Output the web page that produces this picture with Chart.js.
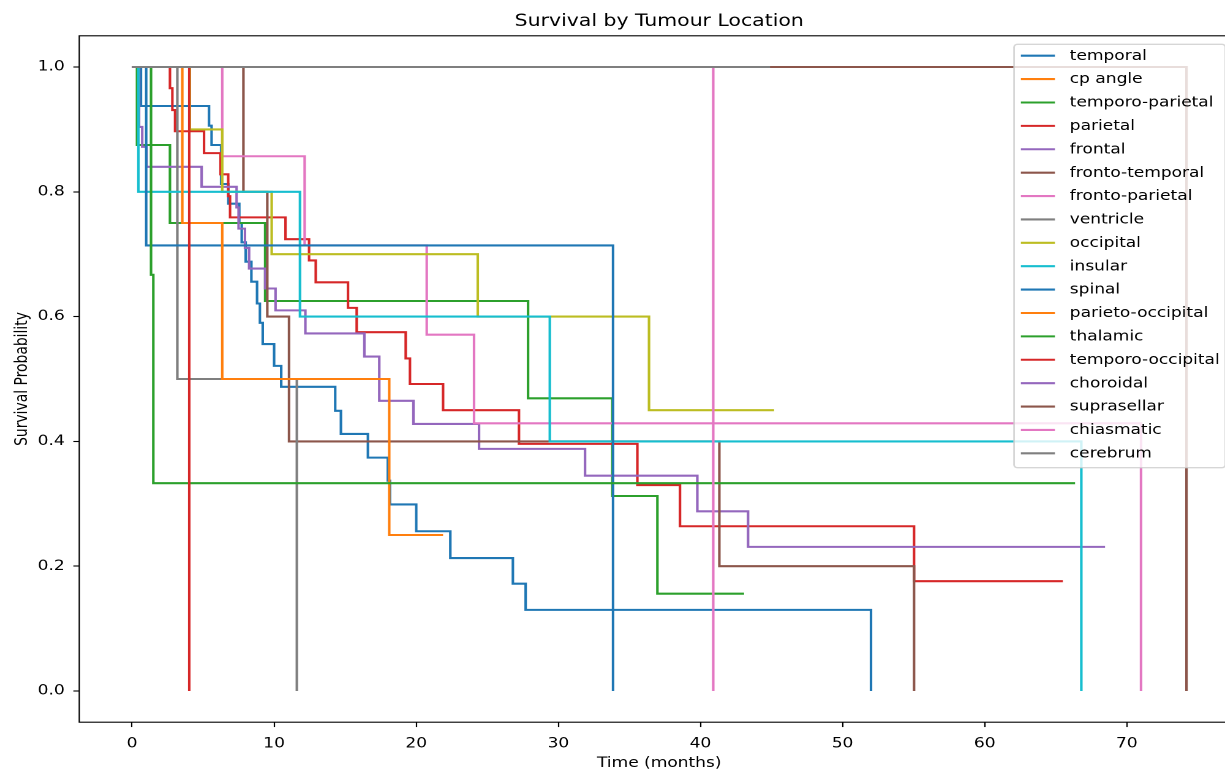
<!DOCTYPE html>
<html><head><meta charset="utf-8">
<script src="https://cdn.jsdelivr.net/npm/chart.js@4.4.1/dist/chart.umd.min.js"></script>
<style>
html,body{margin:0;padding:0;overflow:hidden;background:#fff;width:1225px;height:773px;}
#wrap{position:absolute;left:0;top:0;width:1020px;height:773px;transform:scaleX(1.225);transform-origin:0 0;}
canvas{display:block;}
</style></head><body>
<div id="wrap"><canvas id="c" width="1020" height="773"></canvas></div>
<script>
// ---------- data ----------
const chartTitle = 'Survival by Tumour Location';
const xTitle = 'Time (months)';
const yTitle = 'Survival Probability';
const xTicks = [0, 10, 20, 30, 40, 50, 60, 70];
const yTicks = [0, 0.2, 0.4, 0.6, 0.8, 1.0];
const locations = ['temporal', 'cp angle', 'temporo-parietal', 'parietal', 'frontal', 'fronto-temporal',
  'fronto-parietal', 'ventricle', 'occipital', 'insular', 'spinal', 'parieto-occipital', 'thalamic',
  'temporo-occipital', 'choroidal', 'suprasellar', 'chiasmatic', 'cerebrum'];

const temporalTime = [0, 0.63, 5.42, 5.6, 6.27, 6.78, 7.55, 7.72, 8.0, 8.4, 8.8, 9.0, 9.2, 10.0, 10.5, 14.3, 14.7, 16.6, 18.0, 18.15, 20.0, 22.4, 26.8, 27.7, 52.0];
const temporalSurv = [1, 0.9375, 0.906, 0.875, 0.8125, 0.781, 0.75, 0.719, 0.688, 0.656, 0.621, 0.59, 0.556, 0.521, 0.4875, 0.449, 0.412, 0.374, 0.337, 0.299, 0.256, 0.213, 0.172, 0.13, 0];
const cpAngleTime = [0, 8.0];
const cpAngleSurv = [1, 1];
const temporoParietalTime = [0, 0.35, 2.67, 9.37, 27.87, 33.8, 36.97, 43.07];
const temporoParietalSurv = [1, 0.875, 0.75, 0.625, 0.469, 0.3125, 0.156, 0.156];
const parietalTime = [0, 2.67, 2.84, 3.03, 5.07, 6.23, 6.77, 6.9, 10.8, 12.46, 12.93, 15.2, 15.81, 19.26, 19.56, 21.89, 27.23, 35.56, 38.56, 55.03, 65.5];
const parietalSurv = [1, 0.966, 0.931, 0.897, 0.862, 0.828, 0.793, 0.759, 0.724, 0.69, 0.655, 0.614, 0.575, 0.533, 0.492, 0.45, 0.396, 0.33, 0.264, 0.176, 0.176];
const frontalTime = [0, 0.5, 0.72, 1.03, 4.9, 7.36, 7.5, 7.95, 8.24, 9.37, 10.1, 12.2, 16.35, 17.4, 19.8, 24.42, 31.88, 39.78, 43.35, 68.47];
const frontalSurv = [1, 0.904, 0.872, 0.84, 0.808, 0.775, 0.741, 0.71, 0.677, 0.645, 0.61, 0.573, 0.536, 0.465, 0.428, 0.388, 0.345, 0.288, 0.231, 0.231];
const frontoTemporalTime = [0, 7.84, 9.52, 11.05, 41.33, 55.03];
const frontoTemporalSurv = [1, 0.8, 0.6, 0.4, 0.2, 0];
const frontoParietalTime = [0, 6.35, 12.15, 20.74, 24.07, 71.0];
const frontoParietalSurv = [1, 0.857, 0.714, 0.571, 0.429, 0];
const ventricleTime = [0, 3.19, 11.6];
const ventricleSurv = [1, 0.5, 0];
const occipitalTime = [0, 4.07, 6.35, 9.83, 24.33, 36.38, 45.18];
const occipitalSurv = [1, 0.9, 0.8, 0.7, 0.6, 0.45, 0.45];
const insularTime = [0, 0.45, 11.82, 29.4, 66.8];
const insularSurv = [1, 0.8, 0.6, 0.4, 0];
const spinalTime = [0, 1.0, 33.85];
const spinalSurv = [1, 0.714, 0];
const parietoOccipitalTime = [0, 3.54, 6.35, 18.1, 21.89];
const parietoOccipitalSurv = [1, 0.75, 0.5, 0.25, 0.25];
const thalamicTime = [0, 1.34, 1.5, 66.36];
const thalamicSurv = [1, 0.667, 0.333, 0.333];
const temporoOccipitalTime = [0, 4.03];
const temporoOccipitalSurv = [1, 0];
const choroidalTime = [0, 6.0];
const choroidalSurv = [1, 1];
const suprasellarTime = [0, 74.2];
const suprasellarSurv = [1, 0];
const chiasmaticTime = [0, 40.9];
const chiasmaticSurv = [1, 0];
const cerebrumTime = [0, 44.9];
const cerebrumSurv = [1, 1];

const seriesTimes = [temporalTime, cpAngleTime, temporoParietalTime, parietalTime, frontalTime, frontoTemporalTime,
  frontoParietalTime, ventricleTime, occipitalTime, insularTime, spinalTime, parietoOccipitalTime, thalamicTime,
  temporoOccipitalTime, choroidalTime, suprasellarTime, chiasmaticTime, cerebrumTime];
const seriesSurv = [temporalSurv, cpAngleSurv, temporoParietalSurv, parietalSurv, frontalSurv, frontoTemporalSurv,
  frontoParietalSurv, ventricleSurv, occipitalSurv, insularSurv, spinalSurv, parietoOccipitalSurv, thalamicSurv,
  temporoOccipitalSurv, choroidalSurv, suprasellarSurv, chiasmaticSurv, cerebrumSurv];

// ---------- style ----------
const palette = ['#1f77b4', '#ff7f0e', '#2ca02c', '#d62728', '#9467bd', '#8c564b', '#e377c2', '#7f7f7f', '#bcbd22', '#17becf'];
const FONT = 'DejaVu Sans';
const W = 1020, H = 773;
const AREA = {left: 64.7, right: 1011.6, top: 35.8, bottom: 722.2};
const X_RANGE = [-3.71, 77.91], Y_RANGE = [-0.05, 1.05];

const N = locations.length;
const datasets = locations.map((name, i) => ({
  label: name,
  data: seriesTimes[i].map((t, k) => ({x: t, y: seriesSurv[i][k]})),
  borderColor: palette[i % 10],
  backgroundColor: palette[i % 10],
  borderWidth: 2.08,
  pointRadius: 0,
  pointHoverRadius: 0,
  stepped: 'before',
  fill: false,
  tension: 0,
  borderCapStyle: 'butt',
  borderJoinStyle: 'miter',
  order: N - 1 - i
}));

const decor = {
  id: 'decor',
  afterDatasetsDraw(chart) {
    const ctx = chart.ctx, a = chart.chartArea;
    ctx.save();
    ctx.strokeStyle = '#000';
    ctx.lineWidth = 1.11;
    ctx.strokeRect(a.left, a.top, a.right - a.left, a.bottom - a.top);
    ctx.restore();
  },
  afterDraw(chart) {
    const ctx = chart.ctx, a = chart.chartArea;
    ctx.save();
    ctx.fillStyle = '#000';
    // title
    ctx.font = '16.67px "' + FONT + '"';
    ctx.textAlign = 'center';
    ctx.textBaseline = 'alphabetic';
    ctx.fillText(chartTitle, (a.left + a.right) / 2, 26.0);
    // axis titles
    ctx.font = '13.9px "' + FONT + '"';
    ctx.fillText(xTitle, (a.left + a.right) / 2, 767);
    ctx.save();
    ctx.translate(18.5, (a.top + a.bottom) / 2);
    ctx.rotate(-Math.PI / 2);
    ctx.textBaseline = 'middle';
    ctx.fillText(yTitle, 0, 0);
    ctx.restore();
    // legend
    const fs = 13.9;
    let maxW = 0;
    locations.forEach(n => { maxW = Math.max(maxW, ctx.measureText(n).width); });
    const lx = 827.8, ly = 44.3, lb = 467.7;
    const lw = 0.4 * fs + 2 * fs + 0.8 * fs + maxW + 0.4 * fs;
    const r = 0.2 * fs;
    ctx.beginPath();
    ctx.roundRect(lx, ly, lw, lb - ly, r);
    ctx.fillStyle = 'rgba(255,255,255,0.8)';
    ctx.fill();
    ctx.strokeStyle = 'rgba(204,204,204,0.8)';
    ctx.lineWidth = 1.39;
    ctx.stroke();
    const hx0 = lx + 0.4 * fs, hx1 = hx0 + 2 * fs, tx = hx1 + 0.8 * fs + 1;
    ctx.textAlign = 'left';
    ctx.textBaseline = 'middle';
    locations.forEach((n, i) => {
      const y = 55.7 + i * 23.39;
      ctx.strokeStyle = palette[i % 10];
      ctx.lineWidth = 2.08;
      ctx.beginPath();
      ctx.moveTo(hx0, y);
      ctx.lineTo(hx1, y);
      ctx.stroke();
      ctx.fillStyle = '#000';
      ctx.fillText(n, tx, y + 0.5);
    });
    ctx.restore();
  }
};

Chart.defaults.color = '#000';
Chart.defaults.font.family = FONT;

new Chart(document.getElementById('c'), {
  type: 'line',
  data: {datasets},
  options: {
    responsive: false,
    animation: false,
    devicePixelRatio: 2,
    events: [],
    layout: {padding: {left: 0, top: AREA.top, right: W - AREA.right, bottom: 0}},
    plugins: {legend: {display: false}, title: {display: false}, tooltip: {enabled: false}},
    scales: {
      x: {
        type: 'linear', min: X_RANGE[0], max: X_RANGE[1],
        afterBuildTicks: s => { s.ticks = xTicks.map(v => ({value: v})); },
        afterFit: s => { s.height = H - AREA.bottom; },
        ticks: {autoSkip: false, maxRotation: 0, minRotation: 0, padding: 8.5, color: '#000',
          font: {family: FONT, size: 13.9}, callback: v => String(v)},
        grid: {display: true, drawOnChartArea: false, drawTicks: true, tickLength: 4.86, tickWidth: 1.11, tickColor: '#000', color: '#000'},
        border: {display: false}
      },
      y: {
        type: 'linear', min: Y_RANGE[0], max: Y_RANGE[1],
        afterBuildTicks: s => { s.ticks = yTicks.map(v => ({value: v})); },
        afterFit: s => { s.width = AREA.left; },
        ticks: {autoSkip: false, padding: 7, color: '#000',
          font: {family: FONT, size: 13.9}, callback: v => Number(v).toFixed(1)},
        grid: {display: true, drawOnChartArea: false, drawTicks: true, tickLength: 4.86, tickWidth: 1.11, tickColor: '#000', color: '#000'},
        border: {display: false}
      }
    }
  },
  plugins: [decor]
});
</script>
</body></html>
